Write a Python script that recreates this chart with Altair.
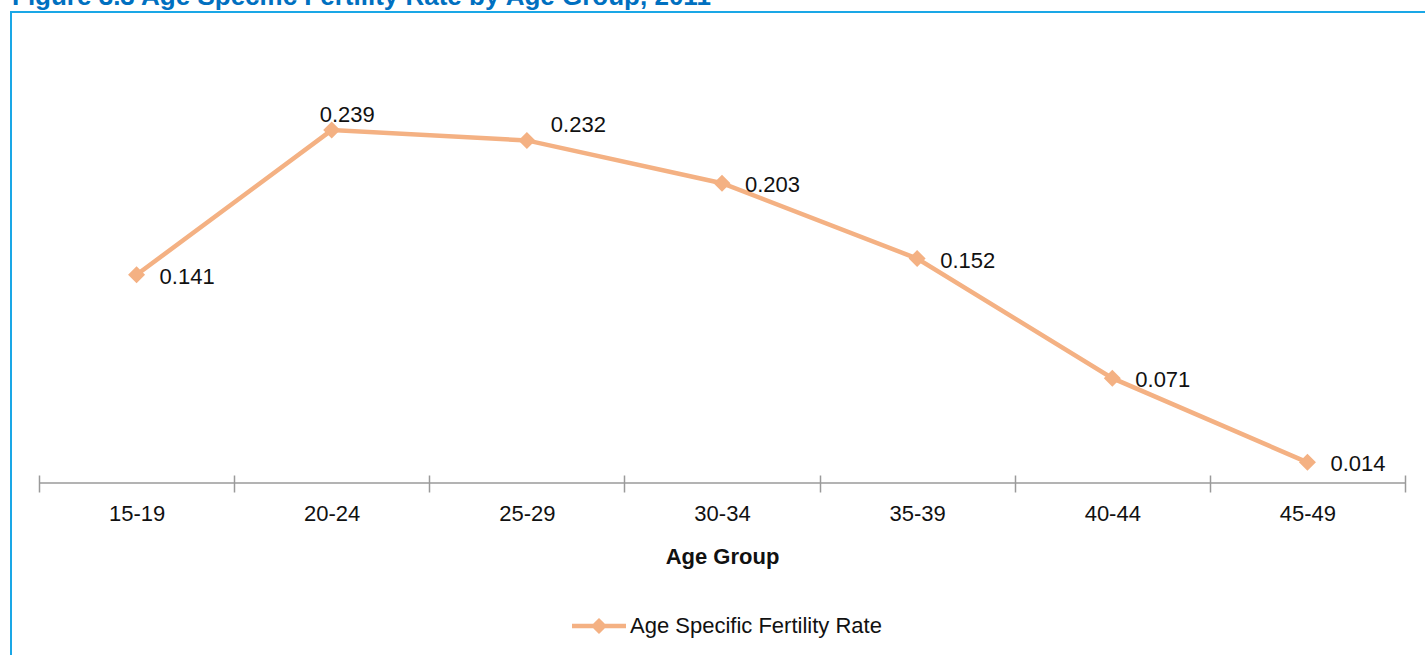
import altair as alt
import pandas as pd

# Age-specific fertility rate by five-year age group
age_groups = ["15-19", "20-24", "25-29", "30-34", "35-39", "40-44", "45-49"]
asfr = [0.141, 0.239, 0.232, 0.203, 0.152, 0.071, 0.014]
series_name = "Age Specific Fertility Rate"
figure_title = "Figure 3.3 Age Specific Fertility Rate by Age Group, 2011"

df = pd.DataFrame({"age": age_groups, "rate": asfr, "series": series_name})

W, H = 1366, 443
FONT = "Liberation Sans"
ORANGE = "#F4B183"
AXIS_GREY = "#9a9a9a"
FRAME_BLUE = "#1aa7e6"
TEXT = "#111111"

# legend glyph: a short line with a diamond on it (unit box -1..1)
LINE_DIAMOND = ("M-1,-0.08L1,-0.08L1,0.08L-1,0.08Z "
                "M-0.3,0L0,-0.3L0.3,0L0,0.3Z")

x_enc = alt.X(
    "age:N",
    sort=age_groups,
    title="Age Group",
    scale=alt.Scale(type="band", paddingInner=0, paddingOuter=0),
    axis=alt.Axis(
        offset=-8, tickSize=17, domain=False, tickBand="extent",
        tickColor=AXIS_GREY, tickWidth=1.5, grid=False,
        labelAngle=0, labelFont=FONT, labelFontSize=22, labelColor=TEXT,
        labelPadding=11,
        titleFont=FONT, titleFontSize=22, titleFontWeight="bold",
        titleColor=TEXT, titlePadding=22,
    ),
)
y_enc = alt.Y("rate:Q", scale=alt.Scale(domain=[0, 0.3], nice=False), axis=None)

base = alt.Chart(df)
one_row = alt.Data(values=[{"k": 0}])

# outer frame and the heading above it
frame = alt.Chart(one_row).mark_rect(
    fill="white", fillOpacity=0, stroke=FRAME_BLUE, strokeWidth=2
).encode(x=alt.value(-28), x2=alt.value(W + 60), y=alt.value(-28), y2=alt.value(H + 200))

heading = alt.Chart(one_row).mark_text(
    text=figure_title, font=FONT, fontSize=26, fontWeight="bold",
    color="#0070C0", align="left", baseline="alphabetic"
).encode(x=alt.value(-27), y=alt.value(-35))

# category axis line along the bottom of the plot (rate = 0)
axis_line = alt.Chart(one_row).mark_rule(
    color=AXIS_GREY, strokeWidth=1.5
).encode(y=alt.value(H), x=alt.value(0), x2=alt.value(W))

line = base.mark_line(color=ORANGE, strokeWidth=4.5).encode(x=x_enc, y=y_enc)

points = base.mark_point(
    shape="diamond", filled=True, size=289, opacity=1
).encode(
    x=x_enc,
    y=y_enc,
    color=alt.Color(
        "series:N",
        scale=alt.Scale(range=[ORANGE]),
        legend=alt.Legend(
            title=None, orient="none", legendX=533, legendY=559,
            symbolType=LINE_DIAMOND, symbolSize=2916, symbolStrokeWidth=0,
            symbolOpacity=1, labelFont=FONT, labelFontSize=22,
            labelColor=TEXT, labelOffset=4, labelLimit=500,
        ),
    ),
)

label_style = dict(font=FONT, fontSize=22, color=TEXT, align="left", baseline="middle")

labels_right = base.mark_text(dx=23, dy=2, **label_style).encode(
    x=x_enc, y=y_enc, text=alt.Text("rate:Q", format=".3f")
).transform_filter("datum.age != '20-24' && datum.age != '25-29'")

label_2529 = base.mark_text(dx=24, dy=-15, **label_style).encode(
    x=x_enc, y=y_enc, text=alt.Text("rate:Q", format=".3f")
).transform_filter("datum.age == '25-29'")

label_2024 = base.mark_text(dx=-12, dy=-15, **label_style).encode(
    x=x_enc, y=y_enc, text=alt.Text("rate:Q", format=".3f")
).transform_filter("datum.age == '20-24'")

chart = alt.layer(
    frame, heading, axis_line, line, points, labels_right, label_2529, label_2024
).properties(
    width=W,
    height=H,
    autosize=alt.AutoSizeParams(type="none"),
    padding={"left": 39, "top": 40, "right": 20, "bottom": 172},
    background="white",
).configure_view(stroke=None).configure_legend(padding=0)

chart.save("out.html", embed_options={"renderer": "svg", "actions": False})
